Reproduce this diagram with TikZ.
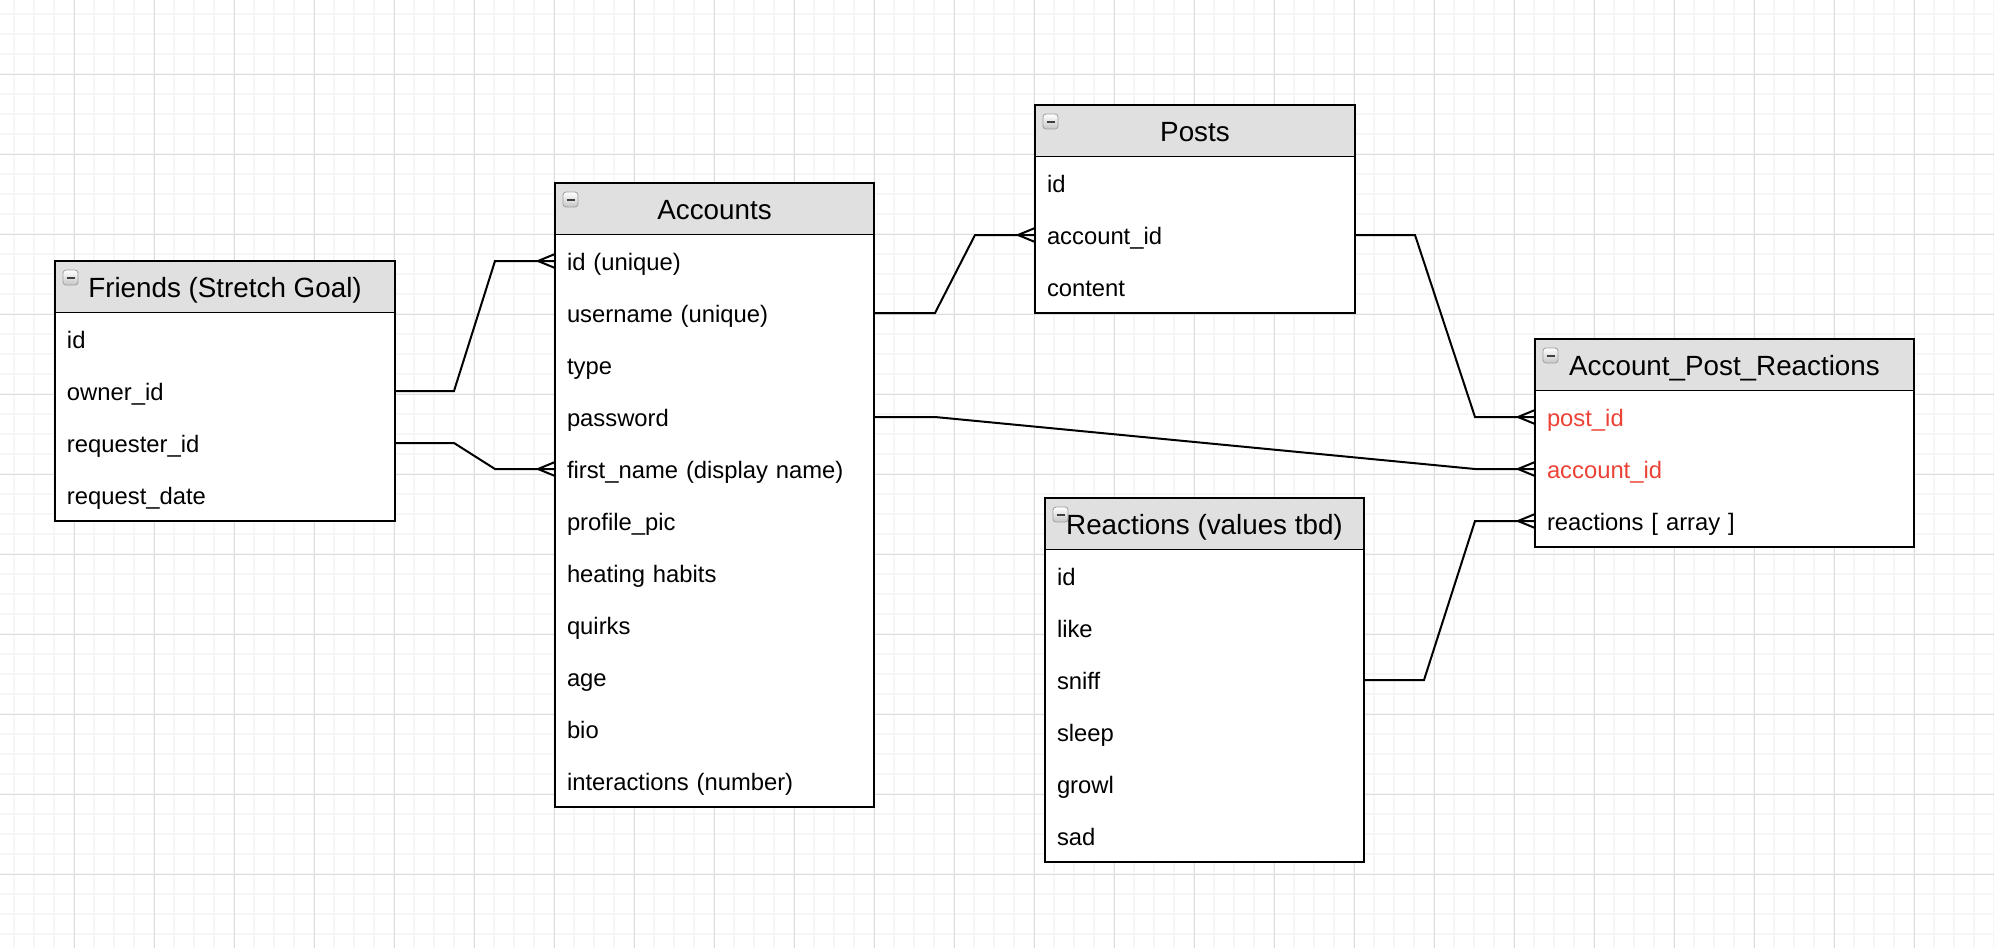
\documentclass[tikz,border=0pt]{standalone}
\usepackage{fontspec}
\setmainfont{Liberation Sans}
\usetikzlibrary{positioning, calc}
\definecolor{headGray}{RGB}{224,224,224}
\definecolor{gridMinor}{RGB}{246,246,246}
\definecolor{gridMajor}{RGB}{221,221,221}
\definecolor{keyRed}{RGB}{236,66,54}
\tikzset{
  tblhead/.style={draw, line width=1pt, fill=headGray, minimum width=#1, minimum height=26pt,
    inner sep=0pt, outer sep=0pt, anchor=north west, font=\fontsize{13.9}{16}\selectfont,
    text height=12.5pt, text depth=2pt},
  tblrow/.style={fill=white, minimum height=26pt, inner xsep=6pt, inner ysep=0pt, outer sep=0pt,
    text width=#1, align=left, font=\fontsize{11.9}{14}\selectfont, text height=12pt, text depth=2.5pt},
  conn/.style={line width=1pt},
}

\begin{document}
\begin{tikzpicture}[x=0.5pt, y=-0.5pt]
    % page and grid
    \clip (0,0) rectangle (1994,948);
    \fill[white] (0,0) rectangle (1994,948);
    \draw[gridMinor, line width=0.9pt, xshift=7pt, yshift=-7pt] (-40,-40) grid[step=10pt] (2040,1000);
    \draw[gridMajor, line width=0.5pt, xshift=37pt, yshift=-37pt] (-80,-80) grid[step=40pt] (2000,960);

    % Friends
    \node[tblhead=170pt] (fr) at (55,261) {Friends (Stretch Goal)};
    \foreach \t [count=\i] in {id, owner\_id, requester\_id, request\_date}
        \node[tblrow=158pt] (fr-\i) at ($(fr.south)+(0,52*\i-26)$) {\t};
    \draw[line width=1pt] (fr.north west) rectangle (fr-4.south east);

    % Accounts
    \node[tblhead=159.5pt] (acc) at (555,183) {Accounts};
    \foreach \t [count=\i] in {id (unique), username (unique), type, password,
        first\_name (display name), profile\_pic, heating habits, quirks, age, bio,
        interactions (number)}
        \node[tblrow=147.5pt] (acc-\i) at ($(acc.south)+(0,52*\i-26)$) {\t};
    \draw[line width=1pt] (acc.north west) rectangle (acc-11.south east);

    % Posts
    \node[tblhead=160pt] (posts) at (1035,105) {Posts};
    \foreach \t [count=\i] in {id, account\_id, content}
        \node[tblrow=148pt] (posts-\i) at ($(posts.south)+(0,52*\i-26)$) {\t};
    \draw[line width=1pt] (posts.north west) rectangle (posts-3.south east);

    % Account_Post_Reactions
    \node[tblhead=189.5pt] (apr) at (1535,339) {Account\_Post\_Reactions};
    \foreach \t/\c [count=\i] in {post\_id/keyRed, account\_id/keyRed, reactions [ array ]/black}
        \node[tblrow=177.5pt, text=\c] (apr-\i) at ($(apr.south)+(0,52*\i-26)$) {\t};
    \draw[line width=1pt] (apr.north west) rectangle (apr-3.south east);

    % Reactions
    \node[tblhead=159.5pt] (reac) at (1045,498) {Reactions (values tbd)};
    \foreach \t [count=\i] in {id, like, sniff, sleep, growl, sad}
        \node[tblrow=147.5pt] (reac-\i) at ($(reac.south)+(0,52*\i-26)$) {\t};
    \draw[line width=1pt] (reac.north west) rectangle (reac-6.south east);

    % collapse icons
    \foreach \h in {fr, acc, posts, apr, reac} {
        \shade[top color=white, bottom color=gray!45, draw=gray!75, rounded corners=1.5pt]
            ($(\h.north west)+(8,9)$) rectangle ++(15,15);
        \draw[line width=1pt, black!75] ($(\h.north west)+(11.5,16.5)$) -- ++(8,0);
    }

    % relations
    \draw[conn] (fr-2.east) -- ++(59,0) -- ($(acc-1.west)+(-60,0)$) -- (acc-1.west);
    \draw[conn] (fr-3.east) -- ++(59,0) -- ($(acc-5.west)+(-60,0)$) -- (acc-5.west);
    \draw[conn] (acc-2.east) -- ++(61,0) -- ($(posts-2.west)+(-60,0)$) -- (posts-2.west);
    \draw[conn] (posts-2.east) -- ++(60,0) -- ($(apr-1.west)+(-60,0)$) -- (apr-1.west);
    \draw[conn] (acc-4.east) -- ++(61,0) -- ($(apr-2.west)+(-60,0)$) -- (apr-2.west);
    \draw[conn] (reac-3.east) -- ++(60,0) -- ($(apr-3.west)+(-60,0)$) -- (apr-3.west);

    % crow's feet
    \foreach \e in {acc-1, acc-5, posts-2, apr-1, apr-2, apr-3}
        \draw[conn] ($(\e.west)+(0,-7)$) -- ($(\e.west)+(-17,0)$) -- ($(\e.west)+(0,7)$);
\end{tikzpicture}
\end{document}
